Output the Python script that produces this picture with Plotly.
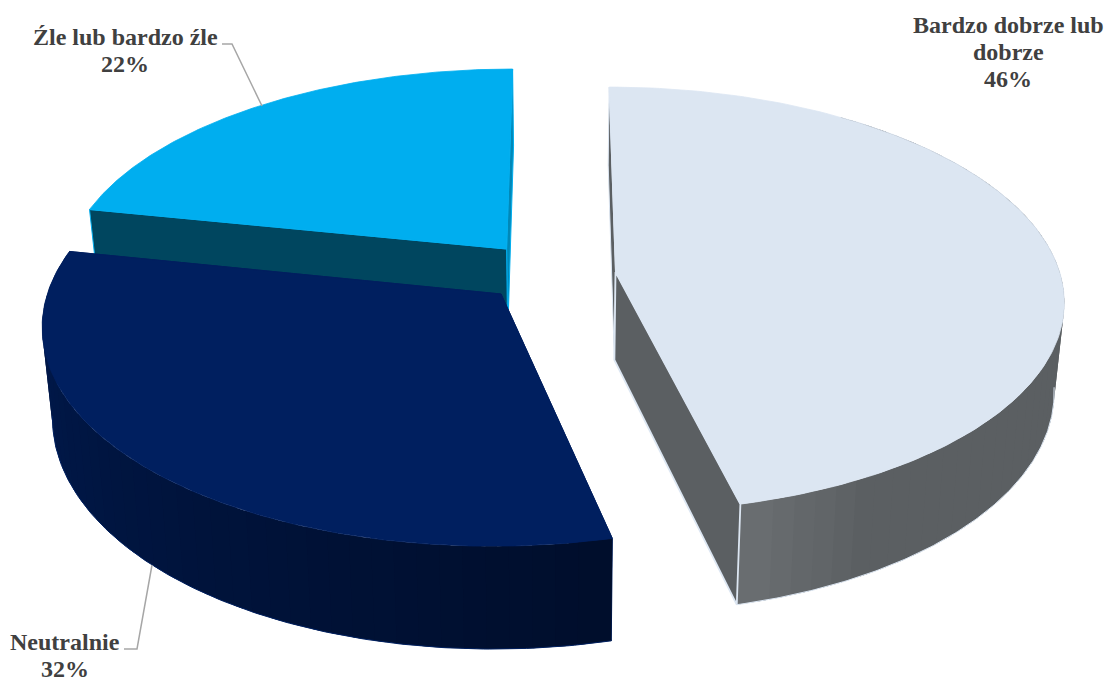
import numpy as np
import plotly.graph_objects as go

# --- data ---
categories = [["Bardzo dobrze lub", "dobrze"], ["Neutralnie"], ["Źle lub bardzo źle"]]
values = [46.3, 31.9, 21.8]

# --- styles ---
top_colors = ["#DCE6F2", "#001F5F", "#00AEEF"]
wall_colors = ["#5B5F62", "#001C50", "#00465F"]
edge_colors = ["#DCE6F2", "#002060", "#00AEEF"]
TEXT = "#404040"
LEADER = "#A6A6A6"

# --- perspective camera (screen pixels) ---
CX, YV, L, K, A, DEPTH, SHRINK = 560.0, -1351.0, 1641.0, 0.13, 449.0, 89.0, 0.98
offsets = [(0.125, 0.0854), (-0.131, -0.0187), (-0.122, 0.197)]
radial = [(1.0, 1.0), (1.008, 1.02), (1.0, 1.0)]


def project(u, v, low=False):
    u, v = np.asarray(u, float), np.asarray(v, float)
    w = 1 + K * v
    x = CX + A * u / w
    y = YV + L / w
    if low:
        x = CX + (x - CX) * SHRINK
        y = y + DEPTH / w
    return x, y


def rim(i, deg, low=False):
    t = np.radians(deg)
    ou, ov = offsets[i]
    ru, rv = radial[i]
    return project(ou + ru * np.sin(t), ov + rv * np.cos(t), low)


def apex(i, low=False):
    return project(offsets[i][0], offsets[i][1], low)


def poly(xs, ys, fill, line=None, width=0.7):
    return go.Scatter(
        x=list(xs), y=list(ys), mode="lines", fill="toself", fillcolor=fill,
        line=dict(color=line or fill, width=width), hoverinfo="skip", showlegend=False,
    )


def band(xs, ys, fill):
    return go.Scatter(x=list(xs), y=list(ys), mode="none", fill="toself", fillcolor=fill,
                      hoverinfo="skip", showlegend=False)


def mix(c0, c1, f):
    a = np.array([int(c0[j:j + 2], 16) for j in (1, 3, 5)])
    b = np.array([int(c1[j:j + 2], 16) for j in (1, 3, 5)])
    r = np.round(a + (b - a) * f).astype(int)
    return f"rgb({r[0]},{r[1]},{r[2]})"


def wall(i, deg, edge=None, width=1):
    ax, ay = apex(i)
    bx, by = apex(i, True)
    rx, ry = rim(i, deg)
    sx, sy = rim(i, deg, True)
    return poly([ax, rx, sx, bx, ax], [ay, ry, sy, by, ay], wall_colors[i], edge or edge_colors[i], width)


def top(i, a0, a1):
    ax, ay = apex(i)
    d = np.linspace(a0, a1, 160)
    x, y = rim(i, d)
    return poly(np.r_[ax, x, ax], np.r_[ay, y, ay], top_colors[i], top_colors[i], 0.8)


def side(i, a_near, a_far, c_near, c_far, reach=1.0, n=40):
    # painted from the far end towards the near corner, every band reaching under the next
    out = []
    d = np.linspace(a_far, a_near, n + 1)
    for j in range(n):
        start = d[j - 1] + (d[j] - d[j - 1]) * 0.5 if j else d[j]
        seg = np.linspace(start, d[j + 1], 5)
        x0, y0 = rim(i, seg)
        x1, y1 = rim(i, seg, True)
        f = min(1.0, (n - 1 - j) / (n * reach))
        out.append(band(np.r_[x0, x1[::-1], x0[0]], np.r_[y0, y1[::-1], y0[0]], mix(c_near, c_far, f)))
    return out


def bottom_edge(i, a0, a1):
    x, y = rim(i, np.linspace(a0, a1, 160), True)
    return go.Scatter(x=x, y=y, mode="lines", line=dict(color=edge_colors[i], width=1),
                      hoverinfo="skip", showlegend=False)


# --- angles from the values ---
shares = np.array(values) / sum(values) * 360
edges = np.r_[0, np.cumsum(shares)]

traces = []
# blue slice at the back
back = wall(2, edges[3])
back.fillcolor = "#0088B8"
traces += [back, wall(2, edges[2]), top(2, edges[2], edges[3])]
# navy slice
traces += [wall(1, edges[1])]
traces += side(1, edges[1], edges[2], "#000E2C", "#001B52", reach=1.0, n=45)
traces += [bottom_edge(1, edges[1], 262), wall(1, edges[2]), top(1, edges[1], edges[2])]
# light slice
traces += [wall(0, edges[0])]
traces += side(0, edges[1], 35, "#696D70", "#5B5F62", reach=0.1, n=50)
traces += [bottom_edge(0, 97, edges[1]), wall(0, edges[1], width=1.8), top(0, edges[0], edges[1])]

# leader lines
traces.append(go.Scatter(x=[222, 232, 262], y=[44, 44, 106], mode="lines",
                         line=dict(color=LEADER, width=1.5), hoverinfo="skip", showlegend=False))
traces.append(go.Scatter(x=[124, 137, 152], y=[649, 649, 565], mode="lines",
                         line=dict(color=LEADER, width=1.5), hoverinfo="skip", showlegend=False))

fig = go.Figure(traces)

label_x = [1008, 65, 125]
label_y0 = [25, 642, 37]
LINE_STEP = 27
for name, val, lx, ly in zip(categories, values, label_x, label_y0):
    for n, line in enumerate(name + [f"{round(val)}%"]):
        fig.add_annotation(
            x=lx, y=ly + n * LINE_STEP, text=f"<b>{line}</b>", showarrow=False,
            xanchor="center", yanchor="middle", align="center",
            font=dict(family="Liberation Serif", size=24, color=TEXT),
        )

fig.update_layout(
    width=1108, height=680, margin=dict(l=0, r=0, t=0, b=0),
    paper_bgcolor="white", plot_bgcolor="white", showlegend=False,
    xaxis=dict(range=[0, 1108], visible=False, fixedrange=True),
    yaxis=dict(range=[680, 0], visible=False, fixedrange=True),
)
fig.write_html("out.html", config={"displayModeBar": False},
               post_script="document.body.style.margin='0';document.body.style.overflow='hidden';")
